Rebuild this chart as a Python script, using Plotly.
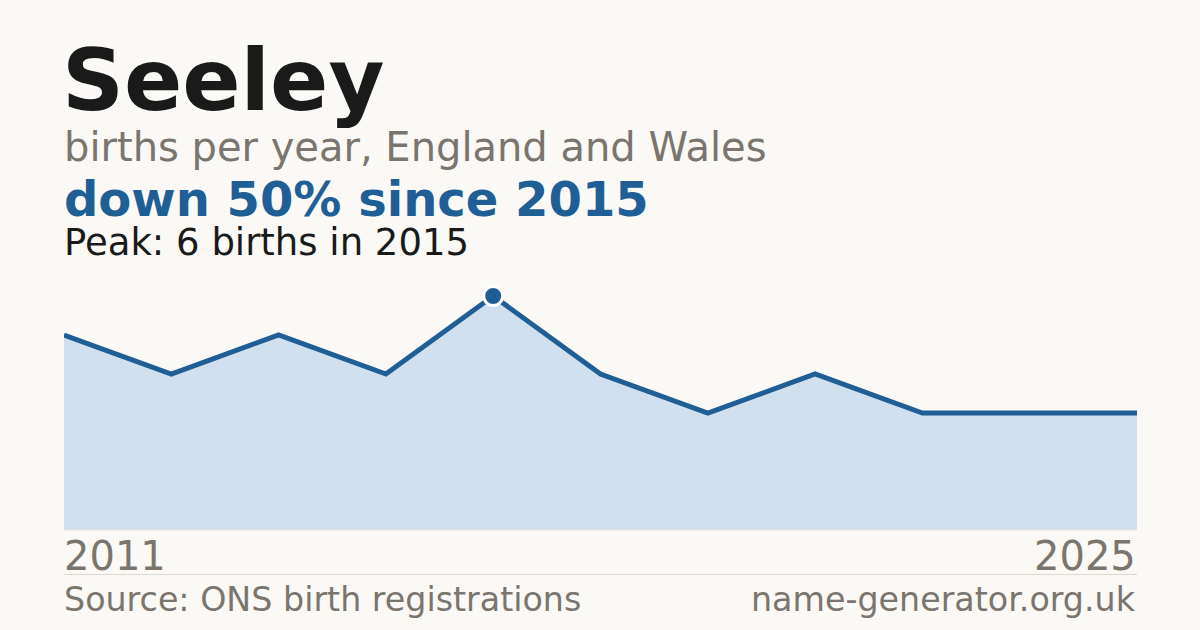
import plotly.graph_objects as go

years = ["2011", "2012", "2013", "2014", "2015", "2016", "2017", "2018", "2019", "2020", "2025"]
births = [5, 4, 5, 4, 6, 4, 3, 4, 3, 3, 3]

title = "Seeley"
subtitle = "births per year, England and Wales"
headline = "down 50% since 2015"
peak_text = "Peak: 6 births in 2015"
source = "Source: ONS birth registrations"
site = "name-generator.org.uk"

BG = "#faf9f5"
BLUE = "#1f5f96"
FILL = "#d0e0ef"
GREY = "#7a756e"
DARK = "#1a1a1a"
FONT = "DejaVu Sans"

W, H = 1200, 630
L, R = 64, 1137
TOP, BOT = 273, 530
PH = BOT - TOP
unit = 39.0


def py(p):
    return (BOT - p) / PH


peak_i = max(range(len(births)), key=lambda i: births[i])

fig = go.Figure()
fig.add_trace(go.Scatter(
    x=years, y=births, mode="lines", fill="tozeroy",
    fillcolor=FILL, line=dict(color=BLUE, width=5), hoverinfo="skip",
))
fig.add_trace(go.Scatter(
    x=[years[peak_i]], y=[births[peak_i]], mode="markers",
    marker=dict(size=19, color=BLUE, line=dict(color="white", width=3)),
    cliponaxis=False, hoverinfo="skip",
))

ann = []


def text(t, x, y, size, color, bold=False, xanchor="left"):
    ann.append(dict(
        text=f"<b>{t}</b>" if bold else t, x=x, y=y, xref="paper", yref="paper",
        xanchor=xanchor, yanchor="middle", showarrow=False,
        font=dict(family=FONT, size=size, color=color),
    ))


text(title, -0.004, py(80), 86, DARK, bold=True)
text(subtitle, -0.002, py(147), 40, GREY)
text(headline, -0.002, py(199), 48, BLUE, bold=True)
text(peak_text, -0.002, py(242), 37, DARK)
text(years[0], -0.002, py(556), 40, GREY)
text(years[-1], 1.001, py(556), 40, GREY, xanchor="right")
text(source, -0.002, py(599), 33.3, GREY)
text(site, 1.001, py(599), 33.3, GREY, xanchor="right")

fig.update_layout(
    width=W, height=H, paper_bgcolor=BG, plot_bgcolor=BG,
    margin=dict(l=L, r=W - R, t=TOP, b=H - BOT, pad=0),
    showlegend=False, annotations=ann,
    xaxis=dict(type="category", range=[0, len(years) - 1], showgrid=False,
               zeroline=False, showticklabels=False, ticks="", fixedrange=True),
    yaxis=dict(range=[0, PH / unit], showgrid=False, zeroline=False,
               showticklabels=False, ticks="", fixedrange=True),
    shapes=[
        dict(type="line", xref="paper", yref="paper", x0=0, x1=1, y0=0, y1=0,
             line=dict(color="#ebe4d6", width=1)),
        dict(type="line", xref="paper", yref="paper", x0=0, x1=1,
             y0=py(574.5), y1=py(574.5), line=dict(color="#dcd9d2", width=1)),
    ],
)

fig.write_html(
    "out.html",
    config={"displayModeBar": False},
    post_script="document.body.style.margin='0';document.body.style.background='#faf9f5';",
)
